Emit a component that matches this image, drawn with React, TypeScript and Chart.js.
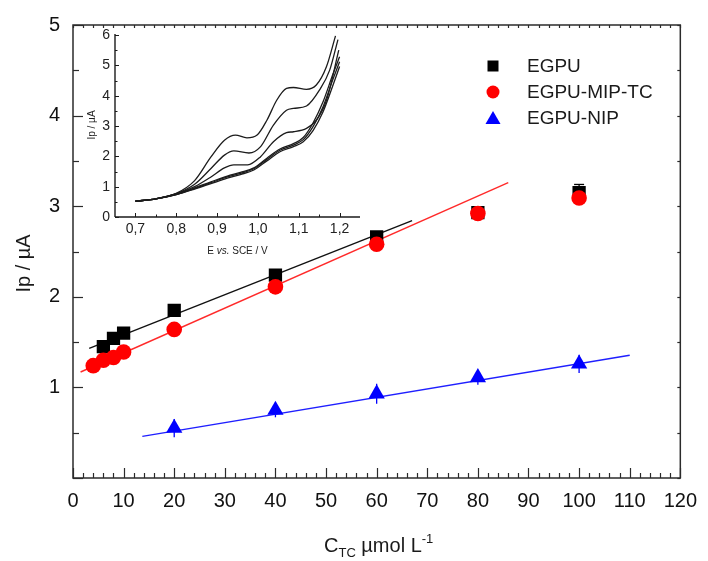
import React, { useEffect, useRef } from 'react';
import { Chart, registerables } from 'chart.js';

Chart.register(...registerables);

const FONT = '"Liberation Sans", Arial, Helvetica, sans-serif';

// ---- Calibration data: peak current (µA) vs tetracycline concentration (µmol/L)
const egpuConc = [6, 8, 10, 20, 40, 60, 80, 100];
const egpuIp = [1.45, 1.54, 1.6, 1.85, 2.24, 2.66, 2.93, 3.15];
const egpuErr = [0.02, 0.02, 0.02, 0.03, 0.03, 0.03, 0.05, 0.09];

const mipConc = [4, 6, 8, 10, 20, 40, 60, 80, 100];
const mipIp = [1.24, 1.3, 1.33, 1.39, 1.64, 2.11, 2.58, 2.92, 3.09];
const mipErr = [0.02, 0.02, 0.02, 0.02, 0.03, 0.03, 0.04, 0.04, 0.05];

const nipConc = [20, 40, 60, 80, 100];
const nipIp = [0.55, 0.75, 0.93, 1.11, 1.26];
const nipErr = [0.1, 0.08, 0.11, 0.08, 0.1];

// Linear fit segments (end points)
const egpuFitX = [3.2, 67];
const egpuFitY = [1.43, 2.84];
const mipFitX = [1.5, 86];
const mipFitY = [1.17, 3.26];
const nipFitX = [13.7, 110];
const nipFitY = [0.46, 1.355];

const xTickValues = [0, 10, 20, 30, 40, 50, 60, 70, 80, 90, 100, 110, 120];
const yTickValues = [0, 1, 2, 3, 4, 5];

const legendLabels = ['EGPU', 'EGPU-MIP-TC', 'EGPU-NIP'];

// ---- Inset: voltammograms, E (V vs SCE) and I (µA)
const insetETicks = [0.7, 0.8, 0.9, 1.0, 1.1, 1.2];
const insetITicks = [0, 1, 2, 3, 4, 5, 6];

const scanE1 = [0.7, 0.75, 0.8, 0.845, 0.885, 0.918, 0.945, 0.973, 0.998, 1.022, 1.046, 1.07, 1.087, 1.119, 1.143, 1.168, 1.19];
const scanI1 = [0.52, 0.6, 0.78, 1.2, 1.98, 2.53, 2.7, 2.61, 2.7, 3.19, 3.85, 4.24, 4.27, 4.21, 4.35, 4.96, 5.97];

const scanE2 = [0.7, 0.75, 0.8, 0.845, 0.885, 0.918, 0.941, 0.978, 1.006, 1.038, 1.07, 1.087, 1.119, 1.151, 1.176, 1.196];
const scanI2 = [0.52, 0.6, 0.77, 1.08, 1.6, 2.04, 2.18, 2.11, 2.31, 3.03, 3.52, 3.58, 3.66, 4.19, 4.85, 5.85];

const scanE3 = [0.7, 0.75, 0.8, 0.845, 0.885, 0.918, 0.941, 0.975, 1.006, 1.038, 1.07, 1.087, 1.119, 1.143, 1.168, 1.198];
const scanI3 = [0.52, 0.6, 0.76, 1.0, 1.32, 1.62, 1.72, 1.72, 1.98, 2.48, 2.78, 2.81, 2.92, 3.19, 3.85, 5.5];

const scanE4 = [0.7, 0.75, 0.8, 0.845, 0.885, 0.925, 0.957, 0.99, 1.022, 1.054, 1.087, 1.111, 1.135, 1.159, 1.184, 1.2];
const scanI4 = [0.52, 0.6, 0.74, 0.92, 1.1, 1.28, 1.4, 1.55, 1.85, 2.15, 2.32, 2.48, 2.85, 3.45, 4.35, 4.96];
const scanI5 = [0.52, 0.6, 0.74, 0.94, 1.13, 1.32, 1.44, 1.59, 1.9, 2.2, 2.37, 2.55, 2.98, 3.62, 4.55, 5.12];
const scanI6 = [0.52, 0.6, 0.75, 0.96, 1.16, 1.35, 1.47, 1.62, 1.94, 2.24, 2.42, 2.62, 3.1, 3.78, 4.72, 5.28];

const toPoints = (xs: number[], ys: number[]) => xs.map((x, i) => ({ x, y: ys[i] }));

function seg(ctx: CanvasRenderingContext2D, x1: number, y1: number, x2: number, y2: number) {
  ctx.beginPath();
  ctx.moveTo(x1, y1);
  ctx.lineTo(x2, y2);
  ctx.stroke();
}

// Box frame with inward ticks on all four sides
const framePlugin = {
  id: 'frame',
  afterDraw(chart: any) {
    const { ctx, chartArea: a, scales } = chart;
    const x = scales.x;
    const y = scales.y;
    ctx.save();
    ctx.strokeStyle = '#2b2b2b';
    ctx.lineWidth = 1.5;
    ctx.strokeRect(a.left, a.top, a.right - a.left, a.bottom - a.top);
    ctx.lineWidth = 1.2;
    for (let v = 0; v <= 120; v += 2) {
      const px = Math.round(x.getPixelForValue(v)) + 0.5;
      const major = v % 10 === 0;
      seg(ctx, px, a.bottom, px, a.bottom - (major ? 10 : 5));
      seg(ctx, px, a.top, px, a.top + 3);
    }
    for (let v = 0; v <= 5; v += 0.5) {
      const py = Math.round(y.getPixelForValue(v)) + 0.5;
      const major = Number.isInteger(v);
      seg(ctx, a.left, py, a.left + (major ? 10 : 6), py);
      seg(ctx, a.right, py, a.right - 3, py);
    }
    ctx.restore();
  },
};

// Vertical error bars drawn beneath the markers
const errorBarPlugin = {
  id: 'errorBars',
  beforeDatasetsDraw(chart: any) {
    const { ctx, scales } = chart;
    chart.data.datasets.forEach((ds: any) => {
      if (!ds.errorBars) return;
      ctx.save();
      ctx.strokeStyle = ds.errorColor;
      ctx.lineWidth = 1.3;
      ds.data.forEach((p: any, i: number) => {
        const e = ds.errorBars[i];
        const px = scales.x.getPixelForValue(p.x);
        const top = scales.y.getPixelForValue(p.y + e);
        const bot = scales.y.getPixelForValue(p.y - e);
        seg(ctx, px, top, px, bot);
        if (ds.errorCap) {
          seg(ctx, px - ds.errorCap, top, px + ds.errorCap, top);
          seg(ctx, px - ds.errorCap, bot, px + ds.errorCap, bot);
        }
      });
      ctx.restore();
    });
  },
};

// Axis titles with sub/superscripts and the marker legend
const annotatePlugin = {
  id: 'annotate',
  afterDraw(chart: any) {
    const { ctx, chartArea: a } = chart;
    ctx.save();
    ctx.fillStyle = '#1a1a1a';
    ctx.textBaseline = 'alphabetic';
    ctx.textAlign = 'left';

    // x title: C_TC µmol L^-1
    const big = `20px ${FONT}`;
    const small = `13px ${FONT}`;
    const parts = [
      { t: 'C', f: big, dy: 0 },
      { t: 'TC', f: small, dy: 5 },
      { t: ' \u00b5mol L', f: big, dy: 0 },
      { t: '-1', f: small, dy: -9 },
    ];
    let total = 0;
    parts.forEach((p) => {
      ctx.font = p.f;
      total += ctx.measureText(p.t).width;
    });
    let cx = (a.left + a.right) / 2 - total / 2 + 2;
    const base = 552;
    parts.forEach((p) => {
      ctx.font = p.f;
      ctx.fillText(p.t, cx, base + p.dy);
      cx += ctx.measureText(p.t).width;
    });

    // y title
    ctx.save();
    ctx.translate(30, (a.top + a.bottom) / 2 + 12);
    ctx.rotate(-Math.PI / 2);
    ctx.font = big;
    ctx.textAlign = 'center';
    ctx.fillText('Ip / \u00b5A', 0, 0);
    ctx.restore();

    // legend
    const lx = 493;
    const rows = [66, 92, 118];
    const colors = ['#000000', '#ff0000', '#0000ff'];
    rows.forEach((ry, i) => {
      ctx.fillStyle = colors[i];
      ctx.beginPath();
      if (i === 0) ctx.rect(lx - 5.5, ry - 5.5, 11, 11);
      else if (i === 1) ctx.arc(lx, ry, 6.5, 0, Math.PI * 2);
      else {
        ctx.moveTo(lx, ry - 7);
        ctx.lineTo(lx + 7.5, ry + 6);
        ctx.lineTo(lx - 7.5, ry + 6);
        ctx.closePath();
      }
      ctx.fill();
      ctx.fillStyle = '#1a1a1a';
      ctx.font = `19px ${FONT}`;
      ctx.textBaseline = 'middle';
      ctx.fillText(legendLabels[i], 527, ry + 1);
    });
    ctx.restore();
  },
};

// Inset axes: left and bottom lines, inward ticks, titles
const insetAxesPlugin = {
  id: 'insetAxes',
  afterDraw(chart: any) {
    const { ctx, chartArea: a, scales } = chart;
    const x = scales.x;
    const y = scales.y;
    ctx.save();
    ctx.strokeStyle = '#1a1a1a';
    ctx.lineWidth = 1.4;
    seg(ctx, a.left, y.getPixelForValue(6) - 1, a.left, a.bottom);
    seg(ctx, a.left, a.bottom, a.right, a.bottom);
    ctx.lineWidth = 1;
    for (let v = 0; v <= 6; v += 0.5) {
      const py = Math.round(y.getPixelForValue(v)) + 0.5;
      seg(ctx, a.left, py, a.left + (Number.isInteger(v) ? 4 : 2.5), py);
    }
    for (let k = 14; k <= 24; k++) {
      const px = Math.round(x.getPixelForValue(k / 20)) + 0.5;
      seg(ctx, px, a.bottom, px, a.bottom - (k % 2 === 0 ? 4 : 2.5));
    }
    ctx.fillStyle = '#222';
    ctx.textBaseline = 'alphabetic';
    // x title with italic "vs."
    const f1 = `10px ${FONT}`;
    const f2 = `italic 10px ${FONT}`;
    const parts = [
      { t: 'E ', f: f1 },
      { t: 'vs.', f: f2 },
      { t: ' SCE / V', f: f1 },
    ];
    let total = 0;
    parts.forEach((p) => {
      ctx.font = p.f;
      total += ctx.measureText(p.t).width;
    });
    let cx = (a.left + a.right) / 2 - total / 2;
    parts.forEach((p) => {
      ctx.font = p.f;
      ctx.fillText(p.t, cx, a.bottom + 37);
      cx += ctx.measureText(p.t).width;
    });
    // y title
    ctx.save();
    ctx.translate(a.left - 20, (a.top + a.bottom) / 2 - 1);
    ctx.rotate(-Math.PI / 2);
    ctx.font = f1;
    ctx.textAlign = 'center';
    ctx.fillText('Ip / \u00b5A', 0, 0);
    ctx.restore();
    ctx.restore();
  },
};

function MainChart() {
  const ref = useRef<HTMLCanvasElement>(null);
  useEffect(() => {
    if (!ref.current) return;
    const lineDs = (xs: number[], ys: number[], color: string) => ({
      type: 'line' as const,
      data: toPoints(xs, ys),
      borderColor: color,
      borderWidth: 1.4,
      pointRadius: 0,
      showLine: true,
      fill: false,
      order: 10,
    });
    const chart = new Chart(ref.current, {
      type: 'scatter',
      data: {
        datasets: [
          {
            label: legendLabels[0],
            data: toPoints(egpuConc, egpuIp),
            pointStyle: 'rect',
            pointRadius: 9.4,
            backgroundColor: '#000000',
            borderColor: '#000000',
            borderWidth: 0,
            order: 2,
            errorBars: egpuErr,
            errorColor: '#000000',
            errorCap: 5,
          } as any,
          {
            label: legendLabels[1],
            data: toPoints(mipConc, mipIp),
            pointStyle: 'circle',
            pointRadius: 7.8,
            backgroundColor: '#ff0000',
            borderColor: '#ff0000',
            borderWidth: 0,
            order: 1,
            errorBars: mipErr,
            errorColor: '#e00000',
            errorCap: 5,
          } as any,
          {
            label: legendLabels[2],
            data: toPoints(nipConc, nipIp),
            pointStyle: 'triangle',
            pointRadius: 9.4,
            backgroundColor: '#0000ff',
            borderColor: '#0000ff',
            borderWidth: 0,
            order: 0,
            errorBars: nipErr,
            errorColor: '#0000ff',
            errorCap: 0,
          } as any,
          lineDs(egpuFitX, egpuFitY, '#111111'),
          lineDs(mipFitX, mipFitY, '#ff2a2a'),
          lineDs(nipFitX, nipFitY, '#1f1fff'),
        ],
      },
      options: {
        responsive: false,
        animation: false,
        layout: { padding: { left: 0, right: 23, top: 21, bottom: 0 } },
        plugins: { legend: { display: false }, tooltip: { enabled: false } },
        scales: {
          x: {
            type: 'linear',
            min: 0,
            max: 120,
            grid: { display: false, drawTicks: false },
            border: { display: false },
            afterBuildTicks: (s: any) => {
              s.ticks = xTickValues.map((v) => ({ value: v }));
            },
            afterFit: (s: any) => {
              s.height = 83;
            },
            ticks: {
              padding: 11,
              color: '#111',
              font: { family: FONT, size: 20 },
              maxRotation: 0,
              autoSkip: false,
            },
          },
          y: {
            type: 'linear',
            min: 0,
            max: 5,
            grid: { display: false, drawTicks: false },
            border: { display: false },
            afterBuildTicks: (s: any) => {
              s.ticks = yTickValues.map((v) => ({ value: v }));
            },
            afterFit: (s: any) => {
              s.width = 73;
            },
            ticks: {
              padding: 13,
              color: '#111',
              font: { family: FONT, size: 20 },
              callback: (v: any) => (v === 0 ? '' : String(v)),
            },
          },
        },
      },
      plugins: [errorBarPlugin, framePlugin, annotatePlugin],
    });
    return () => chart.destroy();
  }, []);
  return <canvas ref={ref} width={708} height={561} style={{ width: 708, height: 561, display: 'block' }} />;
}

function InsetChart() {
  const ref = useRef<HTMLCanvasElement>(null);
  useEffect(() => {
    if (!ref.current) return;
    const scan = (xs: number[], ys: number[]) => ({
      data: toPoints(xs, ys),
      borderColor: '#1c1c1c',
      borderWidth: 1.3,
      pointRadius: 0,
      showLine: true,
      fill: false,
      cubicInterpolationMode: 'monotone' as const,
    });
    const chart = new Chart(ref.current, {
      type: 'scatter',
      data: {
        datasets: [
          scan(scanE1, scanI1),
          scan(scanE2, scanI2),
          scan(scanE3, scanI3),
          scan(scanE4, scanI4),
          scan(scanE4, scanI5),
          scan(scanE4, scanI6),
        ],
      },
      options: {
        responsive: false,
        animation: false,
        layout: { padding: { left: 0, right: 10, top: 15, bottom: 0 } },
        plugins: { legend: { display: false }, tooltip: { enabled: false } },
        scales: {
          x: {
            type: 'linear',
            min: 0.65,
            max: 1.25,
            grid: { display: false, drawTicks: false },
            border: { display: false },
            afterBuildTicks: (s: any) => {
              s.ticks = insetETicks.map((v) => ({ value: v }));
            },
            afterFit: (s: any) => {
              s.height = 48;
            },
            ticks: {
              padding: 4,
              color: '#222',
              font: { family: FONT, size: 14 },
              maxRotation: 0,
              autoSkip: false,
              callback: (v: any) => Number(v).toFixed(1).replace('.', ','),
            },
          },
          y: {
            type: 'linear',
            min: 0,
            max: 6,
            grid: { display: false, drawTicks: false },
            border: { display: false },
            afterBuildTicks: (s: any) => {
              s.ticks = insetITicks.map((v) => ({ value: v }));
            },
            afterFit: (s: any) => {
              s.width = 55;
            },
            ticks: {
              padding: 5,
              color: '#222',
              font: { family: FONT, size: 14 },
            },
          },
        },
      },
      plugins: [insetAxesPlugin],
    });
    return () => chart.destroy();
  }, []);
  return (
    <canvas
      ref={ref}
      width={310}
      height={245}
      style={{ position: 'absolute', left: 60, top: 20, width: 310, height: 245 }}
    />
  );
}

export default function App() {
  return (
    <div style={{ position: 'absolute', left: 0, top: 0, width: 708, height: 561, background: '#ffffff' }}>
      <MainChart />
      <InsetChart />
    </div>
  );
}
